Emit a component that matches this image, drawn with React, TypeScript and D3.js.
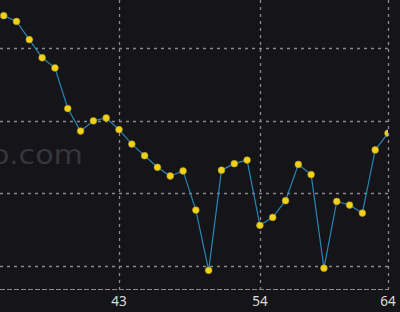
import React from "react";
import * as d3 from "d3";

const xValues = [34,35,36,37,38,39,40,41,42,43,44,45,46,47,48,49,50,51,52,53,54,55,56,57,58,59,60,61,62,63,64];
const yValues = [445,437,412,387,373,317,286,300,304,288,268,252,236,224,231,177,94,232,241,246,156,167,190,240,226,97,189,184,173,260,283];
const xTicks = [43, 54, 64];
const yTicks = [100, 200, 300, 400];
const watermark = "o.com";

export default function App() {
  const W = 400, H = 312;
  const plotRight = 388, plotBottom = 289;
  const x = d3.scaleLinear().domain([43, 64]).range([119, plotRight]);
  const y = d3.scaleLinear().domain([100, 400]).range([266, 48.3]);
  const pts = xValues.map((v, i) => [x(v), y(yValues[i])] as [number, number]);
  const line = d3.line().curve(d3.curveLinear)(pts) || "";
  return (
    <svg width={W} height={H} style={{ position: "fixed", left: 0, top: 0, background: "#141419" }}>
      <defs>
        <clipPath id="plot">
          <rect x={-20} y={0} width={plotRight + 20} height={plotBottom} />
        </clipPath>
      </defs>
      <rect x={0} y={0} width={W} height={H} fill="#141419" />
      <text x={83} y={164} textAnchor="end" fontFamily="'DejaVu Sans', sans-serif" fontSize={27} fill="#36363b"
        textLength={92} lengthAdjust="spacingAndGlyphs">{watermark}</text>
      {yTicks.map(t => (
        <line key={"h" + t} x1={0} x2={plotRight} y1={Math.round(y(t)) + 0.5} y2={Math.round(y(t)) + 0.5}
          stroke="#8a8a8e" strokeWidth={1.3} strokeDasharray="3,4" />
      ))}
      {xTicks.map(t => (
        <line key={"v" + t} x1={Math.round(x(t)) + 0.5} x2={Math.round(x(t)) + 0.5} y1={0} y2={294}
          stroke="#8a8a8e" strokeWidth={1.3} strokeDasharray="3,4" />
      ))}
      <line x1={0} x2={plotRight} y1={plotBottom + 0.5} y2={plotBottom + 0.5} stroke="#8a8a8e" strokeWidth={1.2} strokeDasharray="5,2" />
      <g clipPath="url(#plot)">
        <path d={line} fill="none" stroke="#2a86b4" strokeWidth={1.2} />
        {pts.map((p, i) => (
          <circle key={i} cx={p[0]} cy={p[1]} r={3.4} fill="#f0d21c" stroke="#a89218" strokeWidth={0.6} />
        ))}
      </g>
      {xTicks.map(t => (
        <text key={"l" + t} x={x(t)} y={306} textAnchor="middle" fontFamily="'Noto Sans', sans-serif" fontSize={13.5} fill="#dcdcdc">{t}</text>
      ))}
    </svg>
  );
}
